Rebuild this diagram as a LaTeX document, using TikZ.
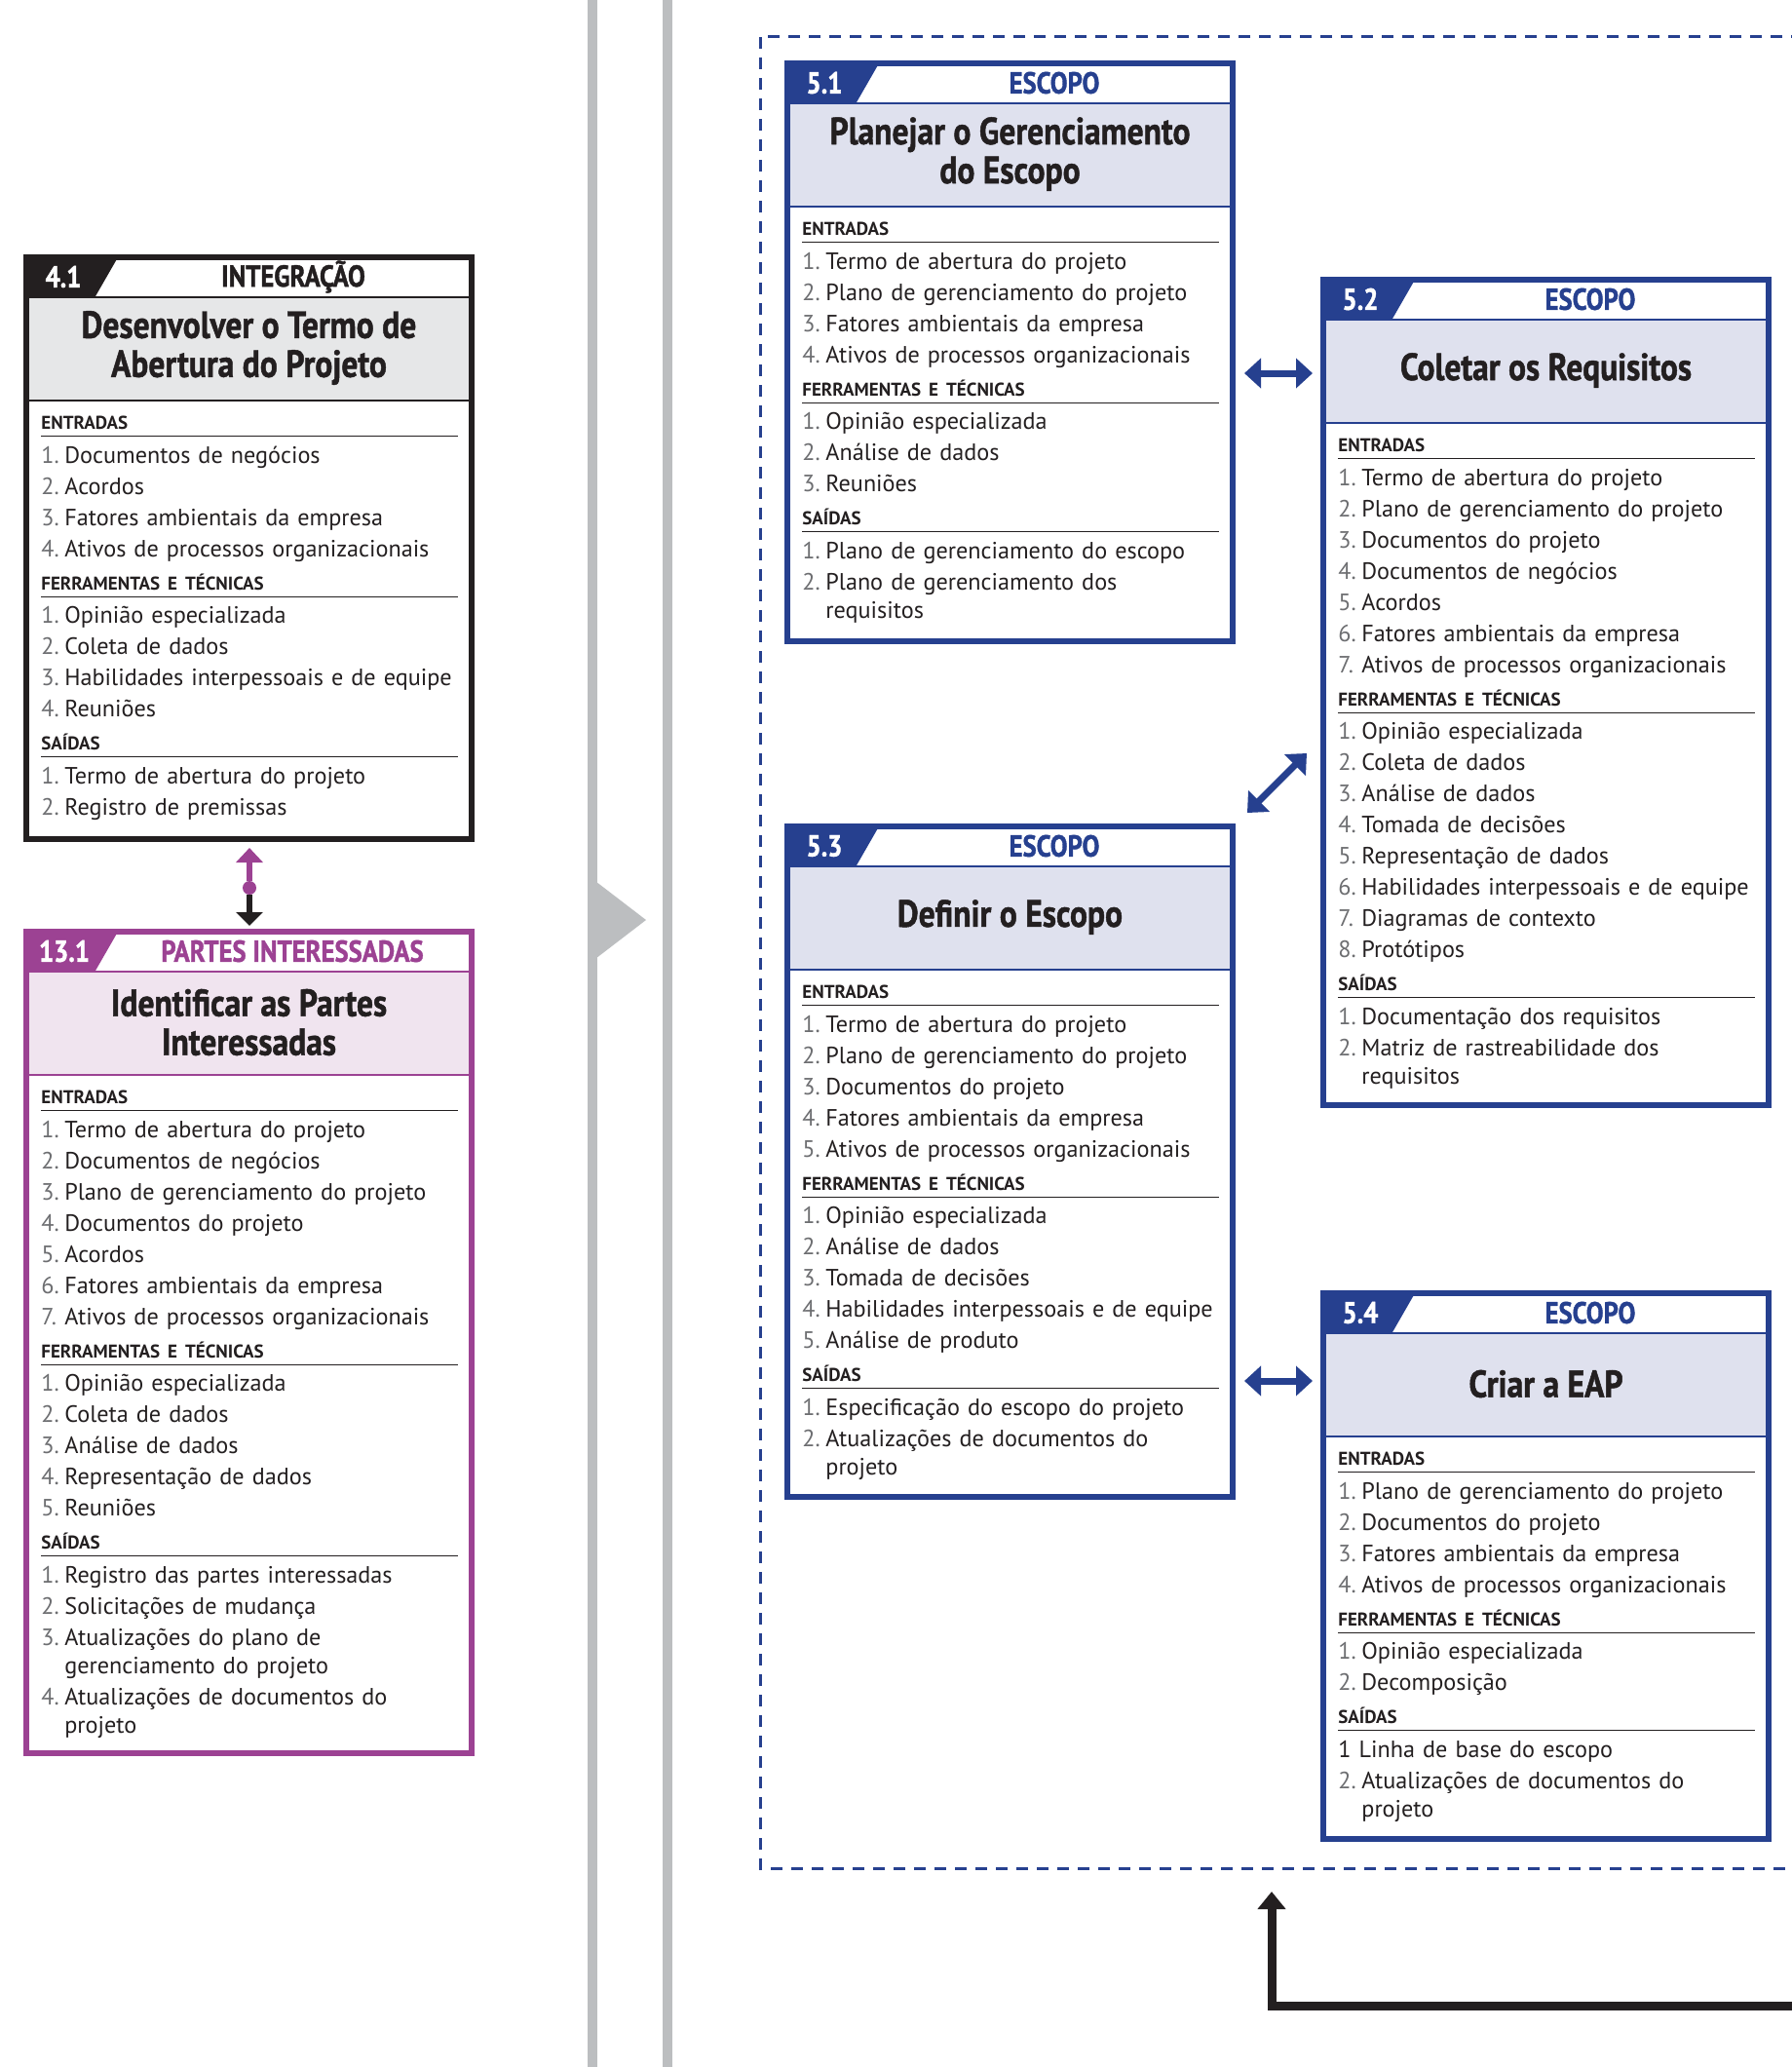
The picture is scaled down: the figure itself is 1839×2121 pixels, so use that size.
\documentclass[tikz,border=0pt]{standalone}
\usepackage{fontspec}
\setmainfont{PT Sans}
\newfontfamily\condfont[FakeStretch=0.86, FakeBold=1.2]{PT Sans}
\usetikzlibrary{arrows.meta,positioning}

\definecolor{ink}{HTML}{231F20}
\definecolor{escblue}{HTML}{26408F}
\definecolor{bluebg}{HTML}{DFE1EE}
\definecolor{stkpurple}{HTML}{9C4293}
\definecolor{purplebg}{HTML}{F0E4EF}
\definecolor{intgray}{HTML}{E6E7E8}
\definecolor{sepgray}{HTML}{BCBEC0}
\definecolor{numgray}{HTML}{6D6E71}

\newcommand\secthd[1]{{\noindent\fontsize{9.5}{17}\selectfont\bfseries #1\par}\vspace{3pt}{\color{ink}\hrule width 214pt height .6pt}\vspace{2.3pt}}
\newcommand\itm[2]{\noindent\hangindent=12pt\hangafter=1\strut\makebox[12pt][l]{\textcolor{numgray}{#1.}}#2\par}
\newcommand\brk{\vadjust{\vskip-1.5pt}\hfil\break}

\begin{document}
\begin{tikzpicture}[x=0.5pt, y=-0.5pt,
  procbox/.style={draw=#1, line width=3pt, minimum width=228.5pt, anchor=north west, inner sep=0pt, outer sep=0pt},
  headtxt/.style={font=\condfont\bfseries\fontsize{15.5}{17}\selectfont},
  numtxt/.style={headtxt, text=white},
  titletxt/.style={font=\condfont\bfseries\fontsize{19.5}{20}\selectfont, align=center, text=ink},
  bodytxt/.style={anchor=north west, inner sep=0pt, text width=226pt, align=left, text=ink, font=\fontsize{12.1}{16}\selectfont},
  dbl/.style={escblue, line width=3.5pt, {Triangle[length=8.5pt,width=15pt]}-{Triangle[length=8.5pt,width=15pt]}},
  sepline/.style={sepgray, line width=5pt},
  grpline/.style={escblue, line width=1.5pt, dash pattern=on 6pt off 4.5pt}
]
\useasboundingbox (0,0) rectangle (1839,2121);

\draw[sepline] (608,0) -- (608,2121);
\draw[sepline] (685,0) -- (685,2121);
\fill[sepgray] (603,898) -- (663,944) -- (603,990) -- cycle;
\draw[grpline] (1850,37) -- (780,37) -- (780,1917) -- (1850,1917);

% 4.1
\node[procbox=ink, minimum height=298.5pt] (p41) at (27,264) {};
\fill[ink] (p41.north west) -- ++(94,0) -- ++(-23,40) -- ++(-71,0) -- cycle;
\fill[intgray] ([shift={(3,41)}]p41.north west) rectangle ([shift={(-3,147)}]p41.north east);
\draw[ink, line width=1.2pt] ([shift={(0,41)}]p41.north west) -- ([shift={(0,41)}]p41.north east)
  ([shift={(0,147)}]p41.north west) -- ([shift={(0,147)}]p41.north east);
\node[numtxt] at ([shift={(38,20)}]p41.north west) {4.1};
\node[headtxt, text=ink] at ([shift={(274,20)}]p41.north west) {INTEGRAÇÃO};
\node[titletxt] at ([shift={(0,93)}]p41.north) {Desenvolver o Termo de\\Abertura do Projeto};
\node[bodytxt] at ([shift={(15,163)}]p41.north west) {%
\secthd{ENTRADAS}
\itm{1}{Documentos de negócios}
\itm{2}{Acordos}
\itm{3}{Fatores ambientais da empresa}
\itm{4}{Ativos de processos organizacionais}
\secthd{FERRAMENTAS E TÉCNICAS}
\itm{1}{Opinião especializada}
\itm{2}{Coleta de dados}
\itm{3}{Habilidades interpessoais e de equipe}
\itm{4}{Reuniões}
\secthd{SAÍDAS}
\itm{1}{Termo de abertura do projeto}
\itm{2}{Registro de premissas}};

% 13.1
\node[procbox=stkpurple, minimum height=421.5pt] (p131) at (27,956) {};
\fill[stkpurple] (p131.north west) -- ++(94,0) -- ++(-23,40) -- ++(-71,0) -- cycle;
\fill[purplebg] ([shift={(3,41)}]p131.north west) rectangle ([shift={(-3,147)}]p131.north east);
\draw[stkpurple, line width=1.2pt] ([shift={(0,41)}]p131.north west) -- ([shift={(0,41)}]p131.north east)
  ([shift={(0,147)}]p131.north west) -- ([shift={(0,147)}]p131.north east);
\node[numtxt] at ([shift={(39,20)}]p131.north west) {13.1};
\node[headtxt, text=stkpurple] at ([shift={(273,20)}]p131.north west) {PARTES INTERESSADAS};
\node[titletxt] at ([shift={(0,93)}]p131.north) {Identificar as Partes\\Interessadas};
\node[bodytxt] at ([shift={(15,163)}]p131.north west) {%
\secthd{ENTRADAS}
\itm{1}{Termo de abertura do projeto}
\itm{2}{Documentos de negócios}
\itm{3}{Plano de gerenciamento do projeto}
\itm{4}{Documentos do projeto}
\itm{5}{Acordos}
\itm{6}{Fatores ambientais da empresa}
\itm{7}{Ativos de processos organizacionais}
\secthd{FERRAMENTAS E TÉCNICAS}
\itm{1}{Opinião especializada}
\itm{2}{Coleta de dados}
\itm{3}{Análise de dados}
\itm{4}{Representação de dados}
\itm{5}{Reuniões}
\secthd{SAÍDAS}
\itm{1}{Registro das partes interessadas}
\itm{2}{Solicitações de mudança}
\itm{3}{Atualizações do plano de\brk gerenciamento do projeto}
\itm{4}{Atualizações de documentos do\brk projeto}};

\node[circle, fill=stkpurple, inner sep=0pt, minimum size=7pt] (dot) at (256,911) {};
\draw[stkpurple, line width=3pt, -{Triangle[length=7.5pt,width=13.5pt]}, shorten >=4.5pt] (dot) -- (dot |- p41.south);
\draw[ink, line width=3pt, -{Triangle[length=7pt,width=13.5pt]}, shorten >=3pt] (dot) -- (dot |- p131.north);

% 5.1
\node[procbox=escblue, minimum height=296.5pt] (p51) at (808,65) {};
\fill[escblue] (p51.north west) -- ++(94,0) -- ++(-23,40) -- ++(-71,0) -- cycle;
\fill[bluebg] ([shift={(3,41)}]p51.north west) rectangle ([shift={(-3,147)}]p51.north east);
\draw[escblue, line width=1.2pt] ([shift={(0,41)}]p51.north west) -- ([shift={(0,41)}]p51.north east)
  ([shift={(0,147)}]p51.north west) -- ([shift={(0,147)}]p51.north east);
\node[numtxt] at ([shift={(38,20)}]p51.north west) {5.1};
\node[headtxt, text=escblue] at ([shift={(274,20)}]p51.north west) {ESCOPO};
\node[titletxt] at ([shift={(0,93)}]p51.north) {Planejar o Gerenciamento\\do Escopo};
\node[bodytxt] at ([shift={(15,163)}]p51.north west) {%
\secthd{ENTRADAS}
\itm{1}{Termo de abertura do projeto}
\itm{2}{Plano de gerenciamento do projeto}
\itm{3}{Fatores ambientais da empresa}
\itm{4}{Ativos de processos organizacionais}
\secthd{FERRAMENTAS E TÉCNICAS}
\itm{1}{Opinião especializada}
\itm{2}{Análise de dados}
\itm{3}{Reuniões}
\secthd{SAÍDAS}
\itm{1}{Plano de gerenciamento do escopo}
\itm{2}{Plano de gerenciamento dos\brk requisitos}};

% 5.2
\node[procbox=escblue, minimum height=423.5pt] (p52) at (1358,287) {};
\fill[escblue] (p52.north west) -- ++(94,0) -- ++(-23,40) -- ++(-71,0) -- cycle;
\fill[bluebg] ([shift={(3,41)}]p52.north west) rectangle ([shift={(-3,147)}]p52.north east);
\draw[escblue, line width=1.2pt] ([shift={(0,41)}]p52.north west) -- ([shift={(0,41)}]p52.north east)
  ([shift={(0,147)}]p52.north west) -- ([shift={(0,147)}]p52.north east);
\node[numtxt] at ([shift={(38,20)}]p52.north west) {5.2};
\node[headtxt, text=escblue] at ([shift={(274,20)}]p52.north west) {ESCOPO};
\node[titletxt] at ([shift={(0,93)}]p52.north) {Coletar os Requisitos};
\node[bodytxt] at ([shift={(15,163)}]p52.north west) {%
\secthd{ENTRADAS}
\itm{1}{Termo de abertura do projeto}
\itm{2}{Plano de gerenciamento do projeto}
\itm{3}{Documentos do projeto}
\itm{4}{Documentos de negócios}
\itm{5}{Acordos}
\itm{6}{Fatores ambientais da empresa}
\itm{7}{Ativos de processos organizacionais}
\secthd{FERRAMENTAS E TÉCNICAS}
\itm{1}{Opinião especializada}
\itm{2}{Coleta de dados}
\itm{3}{Análise de dados}
\itm{4}{Tomada de decisões}
\itm{5}{Representação de dados}
\itm{6}{Habilidades interpessoais e de equipe}
\itm{7}{Diagramas de contexto}
\itm{8}{Protótipos}
\secthd{SAÍDAS}
\itm{1}{Documentação dos requisitos}
\itm{2}{Matriz de rastreabilidade dos\brk requisitos}};

% 5.3
\node[procbox=escblue, minimum height=344pt] (p53) at (808,848) {};
\fill[escblue] (p53.north west) -- ++(94,0) -- ++(-23,40) -- ++(-71,0) -- cycle;
\fill[bluebg] ([shift={(3,41)}]p53.north west) rectangle ([shift={(-3,147)}]p53.north east);
\draw[escblue, line width=1.2pt] ([shift={(0,41)}]p53.north west) -- ([shift={(0,41)}]p53.north east)
  ([shift={(0,147)}]p53.north west) -- ([shift={(0,147)}]p53.north east);
\node[numtxt] at ([shift={(38,20)}]p53.north west) {5.3};
\node[headtxt, text=escblue] at ([shift={(274,20)}]p53.north west) {ESCOPO};
\node[titletxt] at ([shift={(0,93)}]p53.north) {Definir o Escopo};
\node[bodytxt] at ([shift={(15,163)}]p53.north west) {%
\secthd{ENTRADAS}
\itm{1}{Termo de abertura do projeto}
\itm{2}{Plano de gerenciamento do projeto}
\itm{3}{Documentos do projeto}
\itm{4}{Fatores ambientais da empresa}
\itm{5}{Ativos de processos organizacionais}
\secthd{FERRAMENTAS E TÉCNICAS}
\itm{1}{Opinião especializada}
\itm{2}{Análise de dados}
\itm{3}{Tomada de decisões}
\itm{4}{Habilidades interpessoais e de equipe}
\itm{5}{Análise de produto}
\secthd{SAÍDAS}
\itm{1}{Especificação do escopo do projeto}
\itm{2}{Atualizações de documentos do\brk projeto}};

% 5.4
\node[procbox=escblue, minimum height=280pt] (p54) at (1358,1327) {};
\fill[escblue] (p54.north west) -- ++(94,0) -- ++(-23,40) -- ++(-71,0) -- cycle;
\fill[bluebg] ([shift={(3,41)}]p54.north west) rectangle ([shift={(-3,147)}]p54.north east);
\draw[escblue, line width=1.2pt] ([shift={(0,41)}]p54.north west) -- ([shift={(0,41)}]p54.north east)
  ([shift={(0,147)}]p54.north west) -- ([shift={(0,147)}]p54.north east);
\node[numtxt] at ([shift={(38,20)}]p54.north west) {5.4};
\node[headtxt, text=escblue] at ([shift={(274,20)}]p54.north west) {ESCOPO};
\node[titletxt] at ([shift={(0,93)}]p54.north) {Criar a EAP};
\node[bodytxt] at ([shift={(15,163)}]p54.north west) {%
\secthd{ENTRADAS}
\itm{1}{Plano de gerenciamento do projeto}
\itm{2}{Documentos do projeto}
\itm{3}{Fatores ambientais da empresa}
\itm{4}{Ativos de processos organizacionais}
\secthd{FERRAMENTAS E TÉCNICAS}
\itm{1}{Opinião especializada}
\itm{2}{Decomposição}
\secthd{SAÍDAS}
\noindent\strut 1 Linha de base do escopo\par
\itm{2}{Atualizações de documentos do\brk projeto}};

\draw[dbl, shorten <=6pt, shorten >=5.5pt] ([yshift=-10.75pt]p51.east) -- ([yshift=-10.75pt]p51.east -| p52.west);
\draw[dbl] ([shift={(15,-14)}]p53.north east) -- ++(61,-61);
\draw[dbl, shorten <=6pt, shorten >=5.5pt] ([yshift=-45pt]p54.north west -| p53.east) -- ([yshift=-45pt]p54.north west);

\coordinate (ret) at (1850,2058);
\coordinate (grp) at (1305,1941);
\draw[ink, line width=4.5pt, -{Triangle[length=9pt,width=14pt]}] (ret) -| (grp);
\end{tikzpicture}
\end{document}
